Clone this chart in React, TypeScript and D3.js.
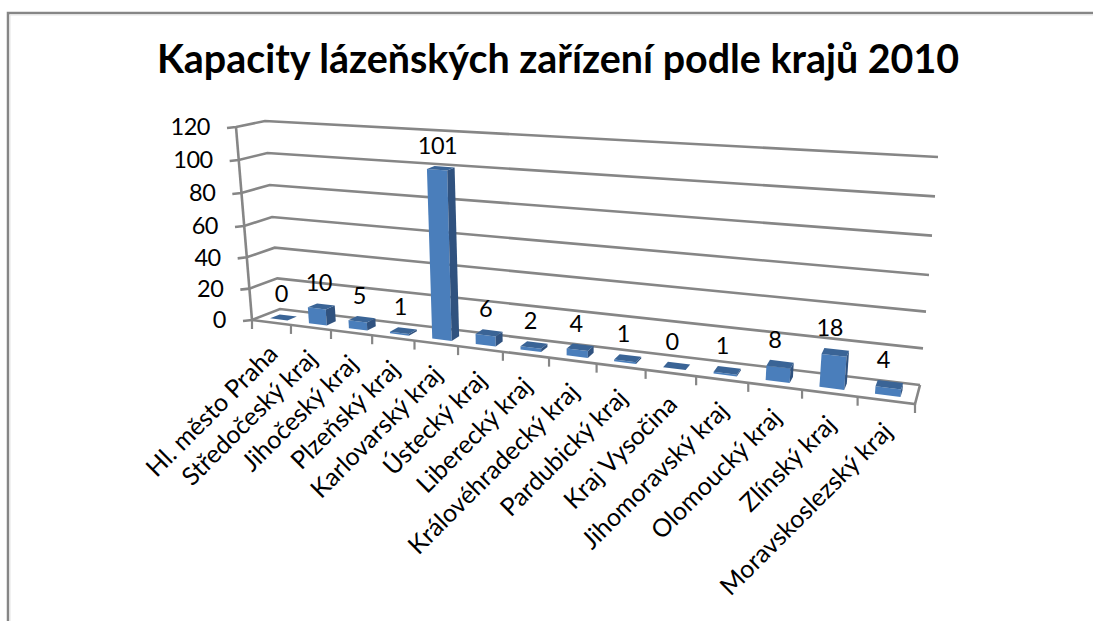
import * as d3 from 'd3';

const categories = [
  'Hl. město Praha', 'Středočeský kraj', 'Jihočeský kraj', 'Plzeňský kraj', 'Karlovarský kraj',
  'Ústecký kraj', 'Liberecký kraj', 'Královéhradecký kraj', 'Pardubický kraj', 'Kraj Vysočina',
  'Jihomoravský kraj', 'Olomoucký kraj', 'Zlínský kraj', 'Moravskoslezský kraj',
];
const values = [0, 10, 5, 1, 101, 6, 2, 4, 1, 0, 1, 8, 18, 4];
const valueTicks = [0, 20, 40, 60, 80, 100, 120];
const title = 'Kapacity lázeňských zařízení podle krajů 2010';

const width = 1093;
const height = 621;
const FONT = 'Lato, "Open Sans", sans-serif';
const GRID = '#868686';

// fake 3D box: each edge of the plot box is a value -> pixel scale
const edgeDomain = [0, 60, 120];
const frontLeftX = d3.scaleLinear().domain(edgeDomain).range([252, 244, 236]);
const frontLeftY = d3.scaleLinear().domain(edgeDomain).range([320, 226, 127]);
const backLeftX = d3.scaleLinear().domain(edgeDomain).range([280, 272, 265]);
const backLeftY = d3.scaleLinear().domain(edgeDomain).range([309, 217, 121]);
const backRightX = d3.scaleLinear().domain(edgeDomain).range([920, 929, 938]);
const backRightY = d3.scaleLinear().domain(edgeDomain).range([385, 275, 157]);
const frontRightX = d3.scaleLinear().domain(edgeDomain).range([915, 925, 936]);
const frontRightY = d3.scaleLinear().domain(edgeDomain).range([404, 291, 170]);

// perspective squeeze along the category axis
const PERSPECTIVE = 1.232;
const warp = (u: number) => u / (u + PERSPECTIVE * (1 - u));
const lerp = d3.interpolateNumber;

function project(u: number, depth: number, v: number): [number, number] {
  const w = warp(u);
  const fx = lerp(frontLeftX(v), frontRightX(v))(w);
  const fy = lerp(frontLeftY(v), frontRightY(v))(w);
  const bx = lerp(backLeftX(v), backRightX(v))(w);
  const by = lerp(backLeftY(v), backRightY(v))(w);
  return [lerp(fx, bx)(depth), lerp(fy, by)(depth)];
}

const band = d3.scaleBand<string>().domain(categories).range([0, 1]).paddingInner(0.55).paddingOuter(0.275);
const step = band.step();
const DEPTH_FRONT = 0.27;
const DEPTH_BACK = 0.62;

const poly = (pts: [number, number][]) => d3.line()(pts) + 'Z';

export default function App() {
  return (
    <svg width={width} height={height} style={{ position: 'absolute', left: 0, top: 0, background: '#fff' }} fontFamily={FONT}>
      {/* chart frame, cut off by the picture on the right and bottom */}
      <path d={`M8,${height}V13H${width}`} fill="none" stroke={GRID} strokeWidth={2.5} />
      <path d={`M10,${height}V15H${width}`} fill="none" stroke="#e4e4e4" strokeWidth={1} />

      <text x={558} y={73} textAnchor="middle" fontSize={39.4} fontWeight={700} fill="#000">{title}</text>

      {/* walls */}
      {valueTicks.map(t => {
        const fl = project(0, 0, t);
        const bl = project(0, 1, t);
        const br = project(1, 1, t);
        const ly = frontLeftY(t);
        const lx = fl[0] - 9;
        return (
          <g key={t}>
            <path d={d3.line()([[lx, ly + 1], fl, bl, br])!} fill="none" stroke={GRID} strokeWidth={2.6} />
            <text x={lx - 17} y={ly} dy="0.35em" textAnchor="end" fontSize={23.5} letterSpacing={-0.5} fill="#000">{t}</text>
          </g>
        );
      })}
      <path d={d3.line()([project(0, 0, 0), project(0, 0, 120)])!} fill="none" stroke={GRID} strokeWidth={2.6} />

      {/* floor edges and category ticks */}
      <path d={d3.line()([project(0, 0, 0), project(1, 0, 0), project(1, 1, 0)])!} fill="none" stroke={GRID} strokeWidth={2.6} />
      {d3.range(categories.length + 1).map(i => {
        const [x, y] = project(i * step, 0, 0);
        return <line key={i} x1={x} y1={y} x2={x} y2={y + 9} stroke={GRID} strokeWidth={2.2} />;
      })}

      {/* bars, left to right */}
      {categories.map((c, i) => {
        const u0 = band(c)!;
        const u1 = u0 + band.bandwidth();
        const v = values[i];
        const fbl = project(u0, DEPTH_FRONT, 0);
        const fbr = project(u1, DEPTH_FRONT, 0);
        const ftl = project(u0, DEPTH_FRONT, v);
        const ftr = project(u1, DEPTH_FRONT, v);
        const bbr = project(u1, DEPTH_BACK, 0);
        const btl = project(u0, DEPTH_BACK, v);
        const btr = project(u1, DEPTH_BACK, v);
        const top = project((u0 + u1) / 2, DEPTH_BACK, v);
        return (
          <g key={c}>
            <path d={poly([fbl, fbr, ftr, ftl])} fill="#4a7ebb" />
            <path d={poly([fbr, bbr, btr, ftr])} fill="#30527f" />
            <path d={poly([ftl, ftr, btr, btl])} fill="#3a6496" />
            <text x={top[0] - 7} y={top[1] - 13} textAnchor="middle" fontSize={23.5} letterSpacing={-0.5} fill="#000">{v}</text>
          </g>
        );
      })}

      {/* category labels */}
      {categories.map(c => {
        const [x, y] = project(band(c)! + band.bandwidth() / 2, 0, 0);
        return (
          <text key={c} transform={`translate(${x + 8},${y + 33}) rotate(-45)`} textAnchor="end" fontSize={25} fill="#000">{c}</text>
        );
      })}
    </svg>
  );
}
